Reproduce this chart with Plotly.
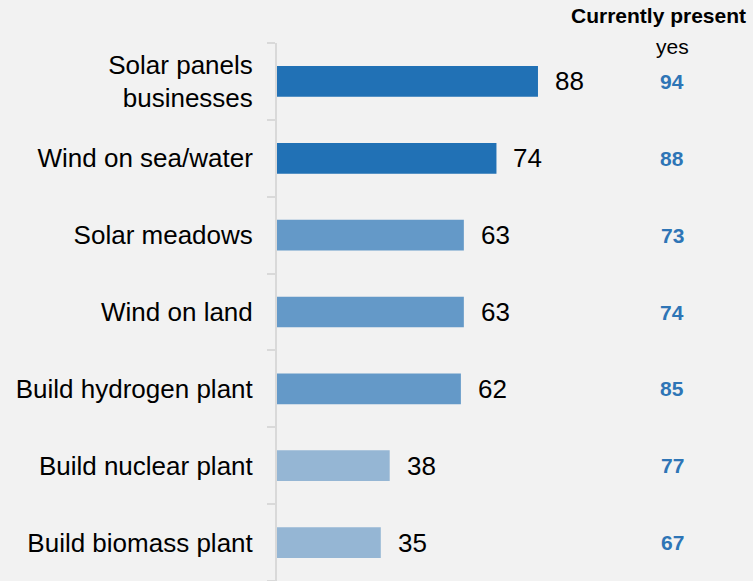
import plotly.graph_objects as go

categories = ["Solar panels<br>businesses", "Wind on sea/water", "Solar meadows", "Wind on land",
              "Build hydrogen plant", "Build nuclear plant", "Build biomass plant"]
support = [88, 74, 63, 63, 62, 38, 35]
present_yes = [94, 88, 73, 74, 85, 77, 67]
bar_colors = ["#2171b5", "#2171b5", "#6499c8", "#6499c8", "#6499c8", "#95b6d4", "#95b6d4"]

FONT = "Liberation Sans, Arial, sans-serif"
ypos = list(range(len(categories)))

fig = go.Figure()
fig.add_trace(go.Bar(
    x=support, y=ypos, orientation="h",
    marker=dict(color=bar_colors, line=dict(width=0)),
    width=0.4, hoverinfo="skip",
))

annotations = []
for v, y in zip(support, ypos):
    annotations.append(dict(x=v, y=y, xref="x", yref="y", text=str(v), showarrow=False,
                            xanchor="left", yanchor="middle", xshift=15,
                            font=dict(family=FONT, size=26, color="#000000")))
for v, y in zip(present_yes, ypos):
    annotations.append(dict(x=0.83, y=y, xref="paper", yref="y", text="<b>%d</b>" % v, showarrow=False,
                            xanchor="center", yanchor="middle",
                            font=dict(family=FONT, size=21, color="#2e75b6")))
annotations.append(dict(x=0.99, y=1.052, xref="paper", yref="paper", text="<b>Currently present</b>",
                        showarrow=False, xanchor="right", yanchor="middle",
                        font=dict(family=FONT, size=21, color="#000000")))
annotations.append(dict(x=0.83, y=0.994, xref="paper", yref="paper", text="yes",
                        showarrow=False, xanchor="center", yanchor="middle",
                        font=dict(family=FONT, size=21, color="#000000")))

fig.update_layout(
    width=753, height=581,
    margin=dict(l=277, r=0, t=43, b=0, autoexpand=False),
    paper_bgcolor="#f2f2f2", plot_bgcolor="#f2f2f2",
    showlegend=False,
    annotations=annotations,
    xaxis=dict(range=[0, 160.5], visible=False, showgrid=False, zeroline=False, fixedrange=True),
    yaxis=dict(
        range=[6.5, -0.5], tickmode="array", tickvals=ypos, ticktext=categories,
        ticks="", showgrid=False, zeroline=False, automargin=False,
        showline=True, linecolor="#d9d9d9", linewidth=2,
        ticklabelstandoff=17,
        tickfont=dict(family=FONT, size=26, color="#000000"),
        minor=dict(tickvals=[i - 0.5 for i in range(len(categories) + 1)], ticks="outside",
                   ticklen=8, tickcolor="#d9d9d9", tickwidth=2, showgrid=False),
    ),
)

fig.write_html(
    "out.html",
    config={"displayModeBar": False},
    post_script="document.body.style.margin='0';document.body.style.overflow='hidden';"
                "document.body.style.background='#f2f2f2';",
)
